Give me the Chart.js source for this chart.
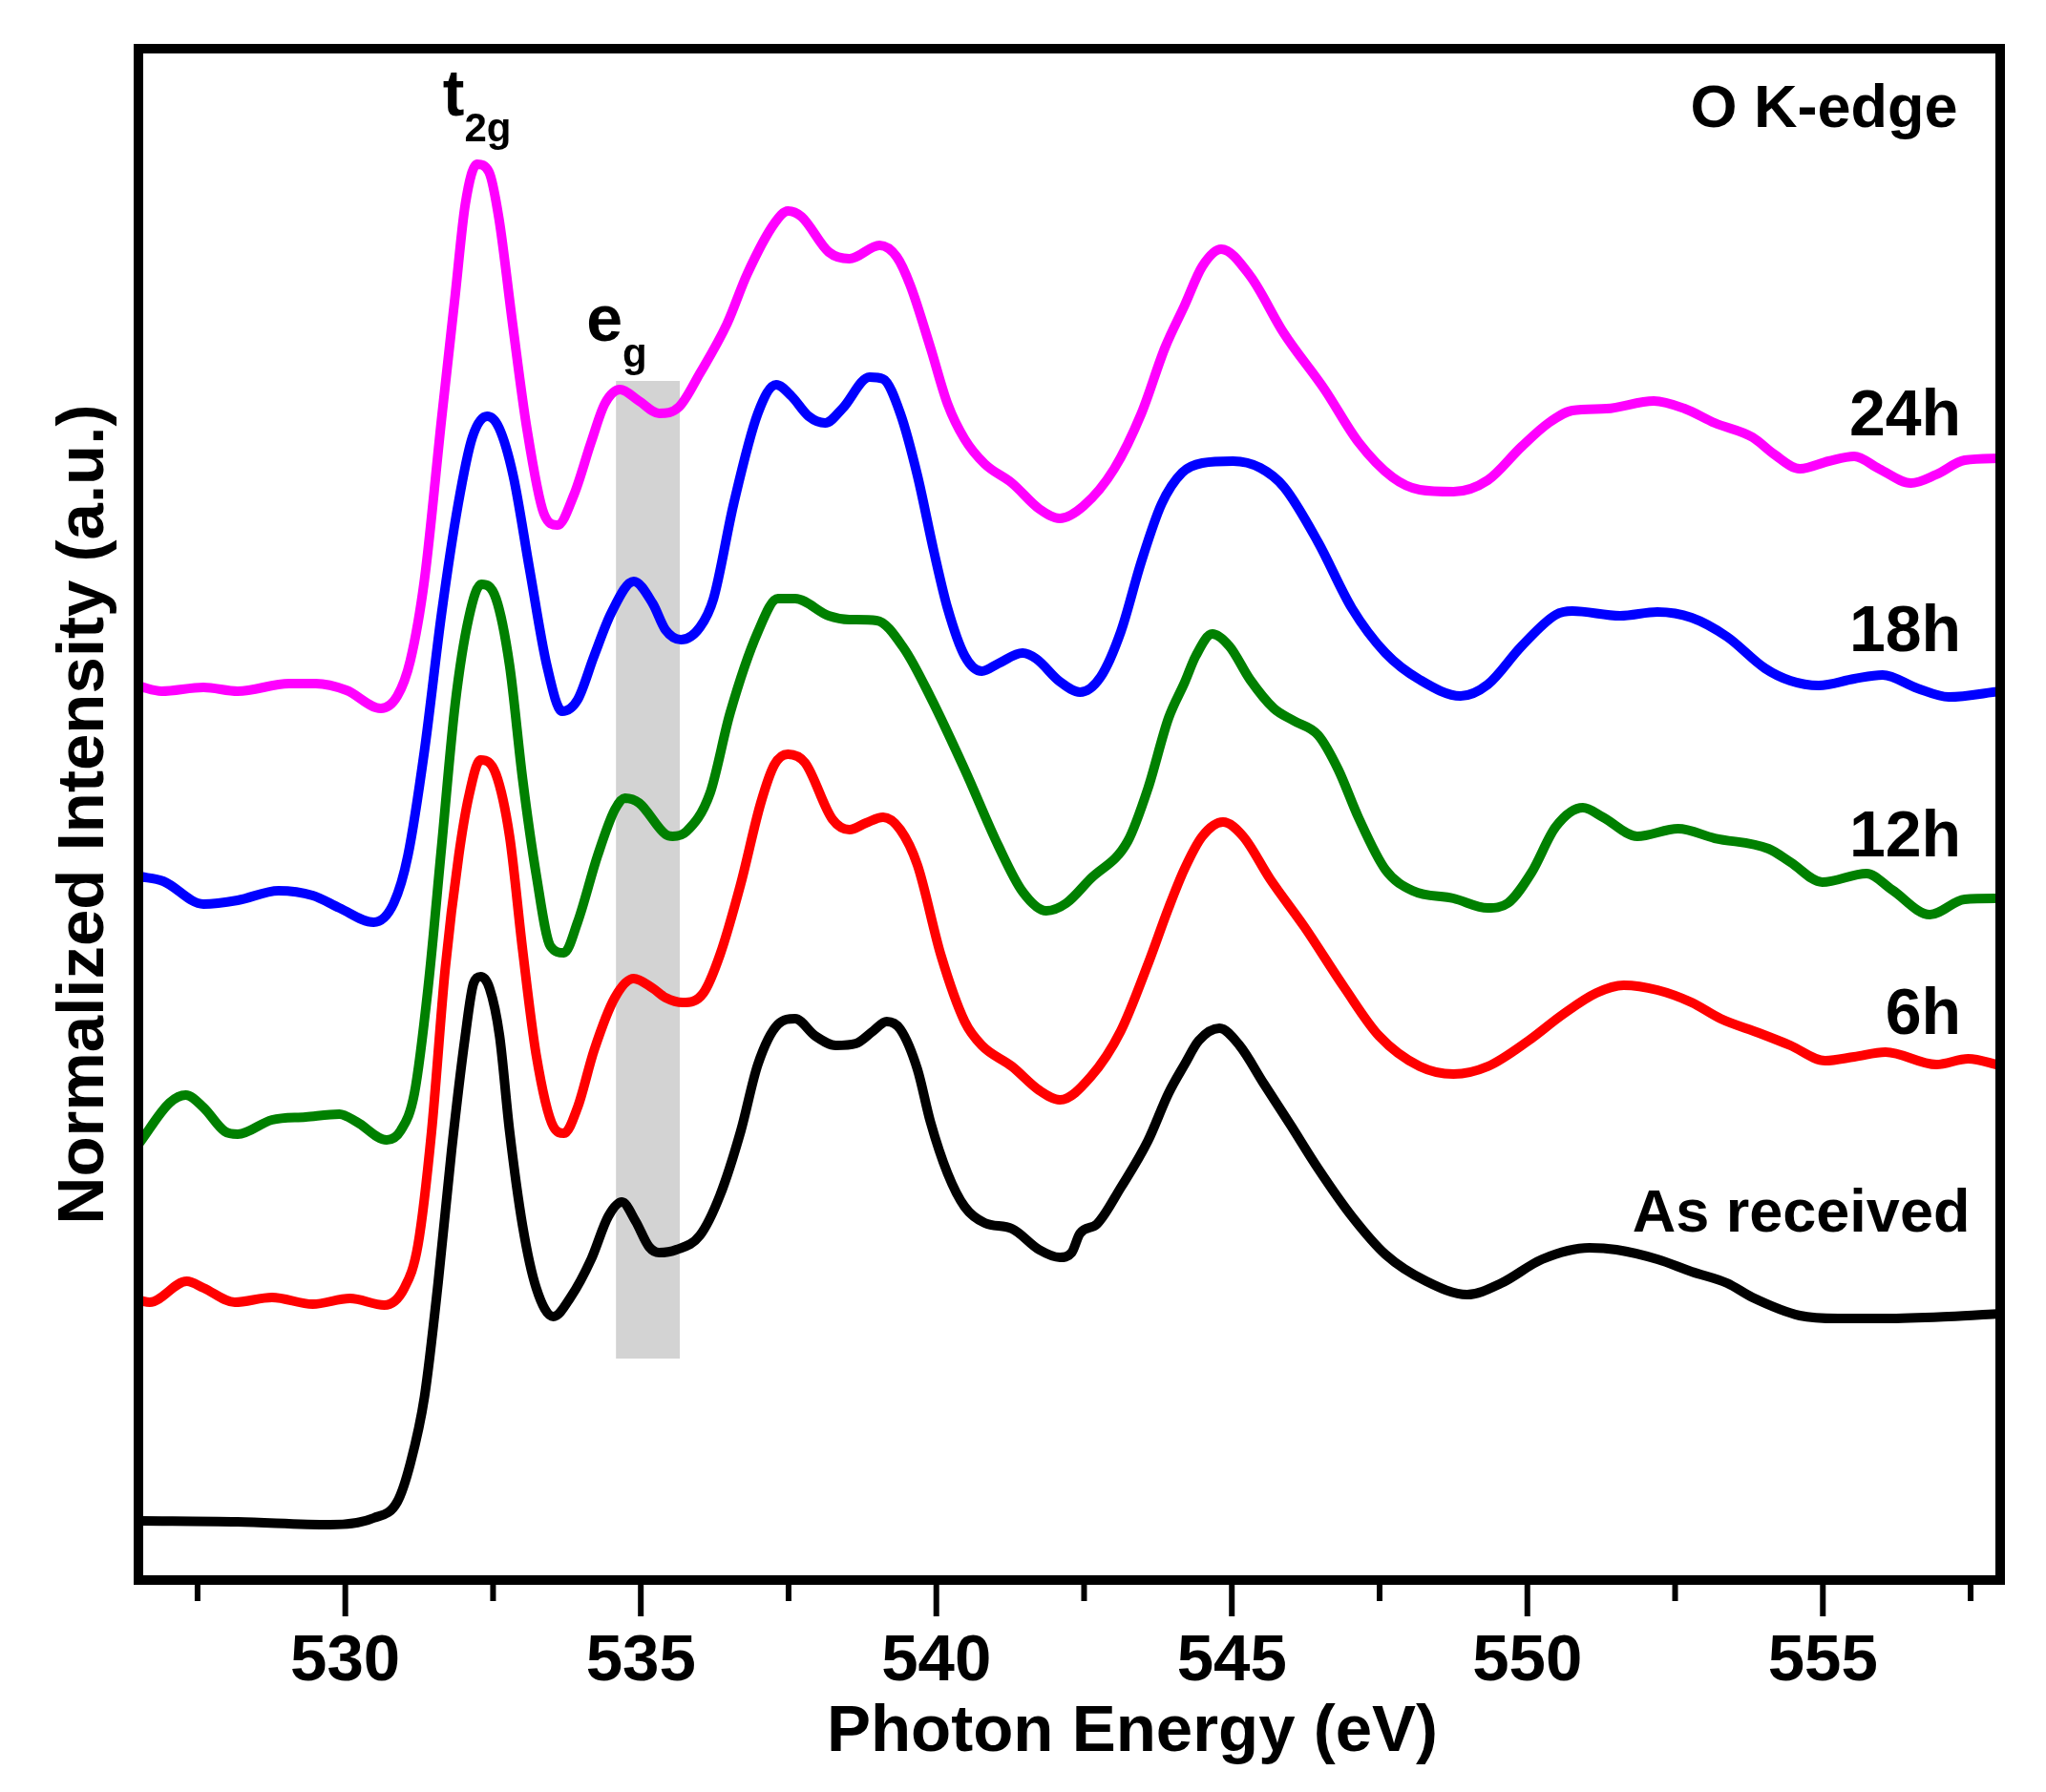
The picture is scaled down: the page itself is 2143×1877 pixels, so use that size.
<!DOCTYPE html>
<html>
<head>
<meta charset="utf-8">
<title>O K-edge XAS</title>
<script src="https://cdn.jsdelivr.net/npm/chart.js@4.4.1/dist/chart.umd.min.js"></script>
<style>
  html, body { margin: 0; padding: 0; background: #fff; }
  #wrap { width: 2143px; height: 1877px; }
</style>
</head>
<body>
<div id="wrap"><canvas id="xasChart" width="2143" height="1877"></canvas></div>
<script>
// photon energy (eV) / stacked intensity (a.u.)
const energyAsReceived = [526.52, 528.18, 529.74, 530.48, 530.88, 531.1, 531.34, 531.57, 531.8, 532.03, 532.17, 532.29, 532.44, 532.61, 532.78, 533.0, 533.23, 533.52, 533.81, 534.16, 534.45, 534.68, 534.91, 535.14, 535.31, 535.6, 536.0, 536.34, 536.69, 536.98, 537.32, 537.61, 537.95, 538.3, 538.64, 538.93, 539.16, 539.39, 539.68, 539.9, 540.19, 540.48, 540.82, 541.28, 541.74, 542.09, 542.29, 542.43, 542.72, 543.12, 543.58, 543.93, 544.2, 544.44, 544.79, 545.13, 545.54, 545.99, 546.46, 547.03, 547.6, 548.29, 548.98, 549.56, 550.25, 551.05, 551.51, 552.2, 552.78, 553.38, 553.81, 554.61, 555.26, 556.06, 557.13, 558.0];
const intensityAsReceived = [62, 61, 58, 65, 82, 122, 192, 311, 451, 570, 625, 632, 620, 570, 470, 371, 306, 276, 296, 336, 381, 396, 376, 349, 343, 346, 361, 403, 470, 540, 582, 588, 570, 560, 562, 575, 585, 577, 535, 480, 426, 391, 374, 368, 346, 338, 343, 363, 373, 411, 460, 510, 540, 565, 578, 560, 520, 477, 431, 381, 341, 313, 299, 311, 336, 348, 346, 336, 323, 311, 296, 277, 274, 274, 276, 279];

const energy6h = [526.52, 526.69, 527.32, 527.6, 528.13, 528.76, 529.45, 530.08, 530.66, 531.0, 531.23, 531.46, 531.69, 531.92, 532.09, 532.29, 532.55, 532.78, 533.0, 533.23, 533.52, 533.7, 533.93, 534.21, 534.56, 534.88, 535.2, 535.42, 535.71, 536.06, 536.34, 536.69, 537.03, 537.26, 537.49, 537.78, 538.24, 538.53, 538.81, 539.1, 539.39, 539.68, 540.08, 540.48, 540.77, 541.28, 541.74, 542.09, 542.61, 543.12, 543.58, 543.93, 544.2, 544.5, 544.85, 545.19, 545.65, 546.23, 546.91, 547.49, 548.18, 548.75, 549.33, 550.02, 550.59, 551.17, 551.63, 552.2, 552.78, 553.27, 553.92, 554.45, 555.04, 555.53, 556.06, 556.92, 557.46, 558.0];
const intensity6h = [293, 291, 313, 306, 291, 296, 289, 295, 288, 306, 351, 470, 640, 759, 821, 859, 844, 779, 660, 550, 475, 468, 495, 555, 610, 630, 620, 610, 605, 615, 655, 729, 814, 854, 865, 856, 797, 786, 793, 799, 786, 749, 654, 585, 560, 538, 513, 503, 527, 575, 645, 704, 745, 779, 794, 779, 734, 684, 620, 570, 538, 530, 538, 565, 592, 615, 623, 618, 605, 588, 573, 560, 544, 548, 553, 540, 546, 539];

const energy12h = [526.52, 527.03, 527.3, 527.6, 527.96, 528.18, 528.76, 529.33, 529.9, 530.19, 530.7, 530.94, 531.17, 531.4, 531.63, 531.86, 532.09, 532.3, 532.55, 532.78, 533.0, 533.23, 533.47, 533.7, 533.93, 534.27, 534.56, 534.73, 534.97, 535.42, 535.54, 535.77, 536.17, 536.51, 536.98, 537.32, 537.61, 538.18, 538.53, 538.99, 539.45, 539.9, 540.48, 541.05, 541.46, 541.86, 542.2, 542.6, 543.24, 543.58, 543.93, 544.2, 544.39, 544.67, 544.96, 545.31, 545.71, 546.05, 546.46, 546.8, 547.14, 547.6, 548.06, 548.75, 549.33, 549.67, 550.07, 550.48, 550.94, 551.28, 551.86, 552.55, 553.17, 554.08, 554.45, 554.99, 555.74, 556.17, 556.81, 557.4, 558.0];
const intensity12h = [458, 500, 508, 495, 470, 467, 482, 485, 488, 480, 461, 471, 510, 620, 769, 918, 1008, 1043, 1028, 958, 839, 739, 664, 657, 689, 759, 807, 819, 814, 781, 779, 784, 824, 908, 993, 1028, 1028, 1010, 1006, 1005, 976, 925, 849, 769, 721, 701, 709, 734, 774, 829, 903, 940, 968, 991, 978, 943, 913, 900, 885, 849, 799, 744, 722, 714, 704, 709, 741, 789, 809, 799, 779, 787, 777, 766, 752, 731, 740, 723, 697, 713, 714];

const energy18h = [526.52, 526.92, 527.6, 528.18, 528.87, 529.45, 529.9, 530.48, 530.82, 531.06, 531.34, 531.63, 531.91, 532.15, 532.4, 532.6, 532.84, 533.12, 533.41, 533.67, 533.93, 534.21, 534.5, 534.88, 535.2, 535.42, 535.68, 536.0, 536.23, 536.57, 536.98, 537.29, 537.55, 537.84, 538.12, 538.41, 538.87, 539.1, 539.39, 539.68, 539.96, 540.19, 540.48, 540.77, 541.05, 541.46, 541.69, 542.09, 542.43, 542.78, 543.12, 543.47, 543.81, 544.16, 544.5, 545.02, 545.48, 545.88, 546.46, 547.03, 547.6, 548.18, 548.87, 549.33, 549.9, 550.48, 550.76, 551.57, 552.2, 552.78, 553.38, 554.02, 554.45, 554.93, 555.53, 556.01, 556.6, 557.13, 558.0];
const intensity18h = [737, 732, 708, 712, 722, 717, 704, 689, 709, 759, 869, 1013, 1127, 1197, 1219, 1207, 1157, 1058, 958, 910, 922, 968, 1013, 1046, 1023, 995, 985, 998, 1028, 1127, 1222, 1252, 1240, 1219, 1212, 1227, 1260, 1258, 1222, 1157, 1077, 1018, 968, 952, 960, 971, 965, 941, 930, 946, 993, 1067, 1127, 1160, 1170, 1172, 1165, 1145, 1087, 1018, 971, 943, 926, 938, 978, 1011, 1015, 1010, 1014, 1008, 988, 955, 942, 937, 944, 948, 934, 925, 931];

const energy24h = [526.52, 526.89, 527.6, 528.18, 529.05, 529.5, 530.02, 530.6, 530.88, 531.1, 531.34, 531.63, 531.86, 532.03, 532.23, 532.43, 532.6, 532.83, 533.07, 533.36, 533.59, 533.87, 534.16, 534.39, 534.65, 534.97, 535.31, 535.65, 536.0, 536.46, 536.8, 537.26, 537.49, 537.72, 538.18, 538.53, 539.04, 539.33, 539.56, 539.9, 540.19, 540.48, 540.82, 541.28, 541.74, 542.09, 542.49, 543.01, 543.47, 543.87, 544.2, 544.5, 544.82, 545.31, 545.88, 546.57, 547.14, 547.72, 548.18, 548.75, 549.33, 549.9, 550.36, 550.76, 551.34, 552.14, 552.66, 553.17, 553.81, 554.18, 554.61, 555.1, 555.53, 555.95, 556.49, 556.92, 557.4, 558.0];
const intensity24h = [936, 931, 935, 931, 939, 939, 932, 913, 926, 963, 1048, 1217, 1346, 1441, 1483, 1475, 1426, 1316, 1207, 1117, 1105, 1137, 1192, 1232, 1247, 1235, 1222, 1229, 1264, 1316, 1368, 1421, 1434, 1428, 1391, 1384, 1398, 1386, 1356, 1291, 1232, 1195, 1169, 1149, 1122, 1112, 1125, 1164, 1222, 1291, 1335, 1376, 1394, 1366, 1306, 1247, 1192, 1155, 1142, 1140, 1152, 1187, 1212, 1225, 1227, 1235, 1227, 1212, 1197, 1179, 1164, 1172, 1177, 1164, 1149, 1158, 1173, 1175];

const seriesNames = ['As received', '6h', '12h', '18h', '24h'];
const majorTicks = [530, 535, 540, 545, 550, 555];
const minorTicks = [527.5, 532.5, 537.5, 542.5, 547.5, 552.5, 557.5];
const egBandEnergy = [534.58, 535.66];
const egBandIntensity = [232, 1256];

const FONT = '"Liberation Sans", Arial, Helvetica, sans-serif';

function points(xs, ys) {
  return xs.map((x, i) => ({ x: x, y: ys[i] }));
}

// text notes anchored in data units
const notes = [
  { text: 'O K-edge', x: 557.28, y: 1522, size: 63, align: 'right' },
  { text: '24h', x: 557.34, y: 1199, size: 68, align: 'right' },
  { text: '18h', x: 557.34, y: 973, size: 68, align: 'right' },
  { text: '12h', x: 557.34, y: 758, size: 68, align: 'right' },
  { text: '6h', x: 557.34, y: 572, size: 68, align: 'right' },
  { text: 'As received', x: 557.49, y: 365, size: 63, align: 'right' }
];
const subNotes = [
  { main: 't', sub: '2g', x: 531.65, y: 1534, subY: 1507 },
  { main: 'e', sub: 'g', x: 534.08, y: 1298, subY: 1271 }
];

const decor = {
  id: 'decor',
  beforeDatasetsDraw(chart) {
    const { ctx, scales: { x, y } } = chart;
    const l = x.getPixelForValue(egBandEnergy[0]);
    const r = x.getPixelForValue(egBandEnergy[1]);
    const t = y.getPixelForValue(egBandIntensity[1]);
    const b = y.getPixelForValue(egBandIntensity[0]);
    ctx.save();
    ctx.fillStyle = '#d3d3d3';
    ctx.fillRect(l, t, r - l, b - t);
    ctx.restore();
  },
  afterDraw(chart) {
    const { ctx, chartArea: a, scales: { x, y } } = chart;
    ctx.save();
    ctx.strokeStyle = '#000';
    ctx.lineJoin = 'miter';
    ctx.lineWidth = 10;
    ctx.strokeRect(a.left, a.top, a.right - a.left, a.bottom - a.top);

    // tick marks hang below the frame
    ctx.lineWidth = 6;
    ctx.lineCap = 'butt';
    const base = a.bottom + 5;
    majorTicks.forEach(v => {
      const p = x.getPixelForValue(v);
      ctx.beginPath(); ctx.moveTo(p, base); ctx.lineTo(p, base + 33); ctx.stroke();
    });
    minorTicks.forEach(v => {
      const p = x.getPixelForValue(v);
      ctx.beginPath(); ctx.moveTo(p, base); ctx.lineTo(p, base + 17); ctx.stroke();
    });

    ctx.fillStyle = '#000';
    ctx.textBaseline = 'alphabetic';

    notes.forEach(n => {
      ctx.font = 'bold ' + n.size + 'px ' + FONT;
      ctx.textAlign = n.align;
      ctx.fillText(n.text, x.getPixelForValue(n.x), y.getPixelForValue(n.y));
    });

    subNotes.forEach(n => {
      ctx.textAlign = 'left';
      ctx.font = 'bold 68px ' + FONT;
      const px = x.getPixelForValue(n.x);
      ctx.fillText(n.main, px, y.getPixelForValue(n.y));
      const w = ctx.measureText(n.main).width;
      ctx.font = 'bold 42px ' + FONT;
      ctx.fillText(n.sub, px + w, y.getPixelForValue(n.subY));
    });

    // axis titles
    ctx.font = 'bold 69px ' + FONT;
    ctx.textAlign = 'center';
    ctx.fillText('Photon Energy (eV)', (a.left + a.right) / 2 + 66, a.bottom + 179);

    ctx.translate(108, (a.top + a.bottom) / 2);
    ctx.rotate(-Math.PI / 2);
    ctx.fillText('Normalized Intensity (a.u.)', 0, 0);
    ctx.restore();
  }
};

const colors = ['#000000', '#ff0000', '#008000', '#0000ff', '#ff00ff'];
const seriesData = [
  points(energyAsReceived, intensityAsReceived),
  points(energy6h, intensity6h),
  points(energy12h, intensity12h),
  points(energy18h, intensity18h),
  points(energy24h, intensity24h)
];

new Chart(document.getElementById('xasChart'), {
  type: 'line',
  data: {
    datasets: seriesNames.map((name, i) => ({
      label: name,
      data: seriesData[i],
      borderColor: colors[i],
      borderWidth: 10,
      pointRadius: 0,
      fill: false,
      cubicInterpolationMode: 'monotone'
    }))
  },
  options: {
    responsive: false,
    animation: false,
    devicePixelRatio: 1,
    layout: { padding: { left: 145, right: 48, top: 51, bottom: 0 } },
    plugins: { legend: { display: false }, tooltip: { enabled: false } },
    scales: {
      x: {
        type: 'linear',
        min: 526.5,
        max: 558,
        grid: { display: false, drawTicks: false },
        border: { display: false },
        afterBuildTicks: (scale) => { scale.ticks = majorTicks.map(v => ({ value: v })); },
        afterFit: (scale) => { scale.height = 222; },
        ticks: {
          color: '#000',
          padding: 45,
          maxRotation: 0,
          font: { family: FONT, size: 69, weight: 'bold' },
          callback: (v) => String(v)
        }
      },
      y: {
        type: 'linear',
        min: 0,
        max: 1604,
        display: false
      }
    }
  },
  plugins: [decor]
});
</script>
</body>
</html>
